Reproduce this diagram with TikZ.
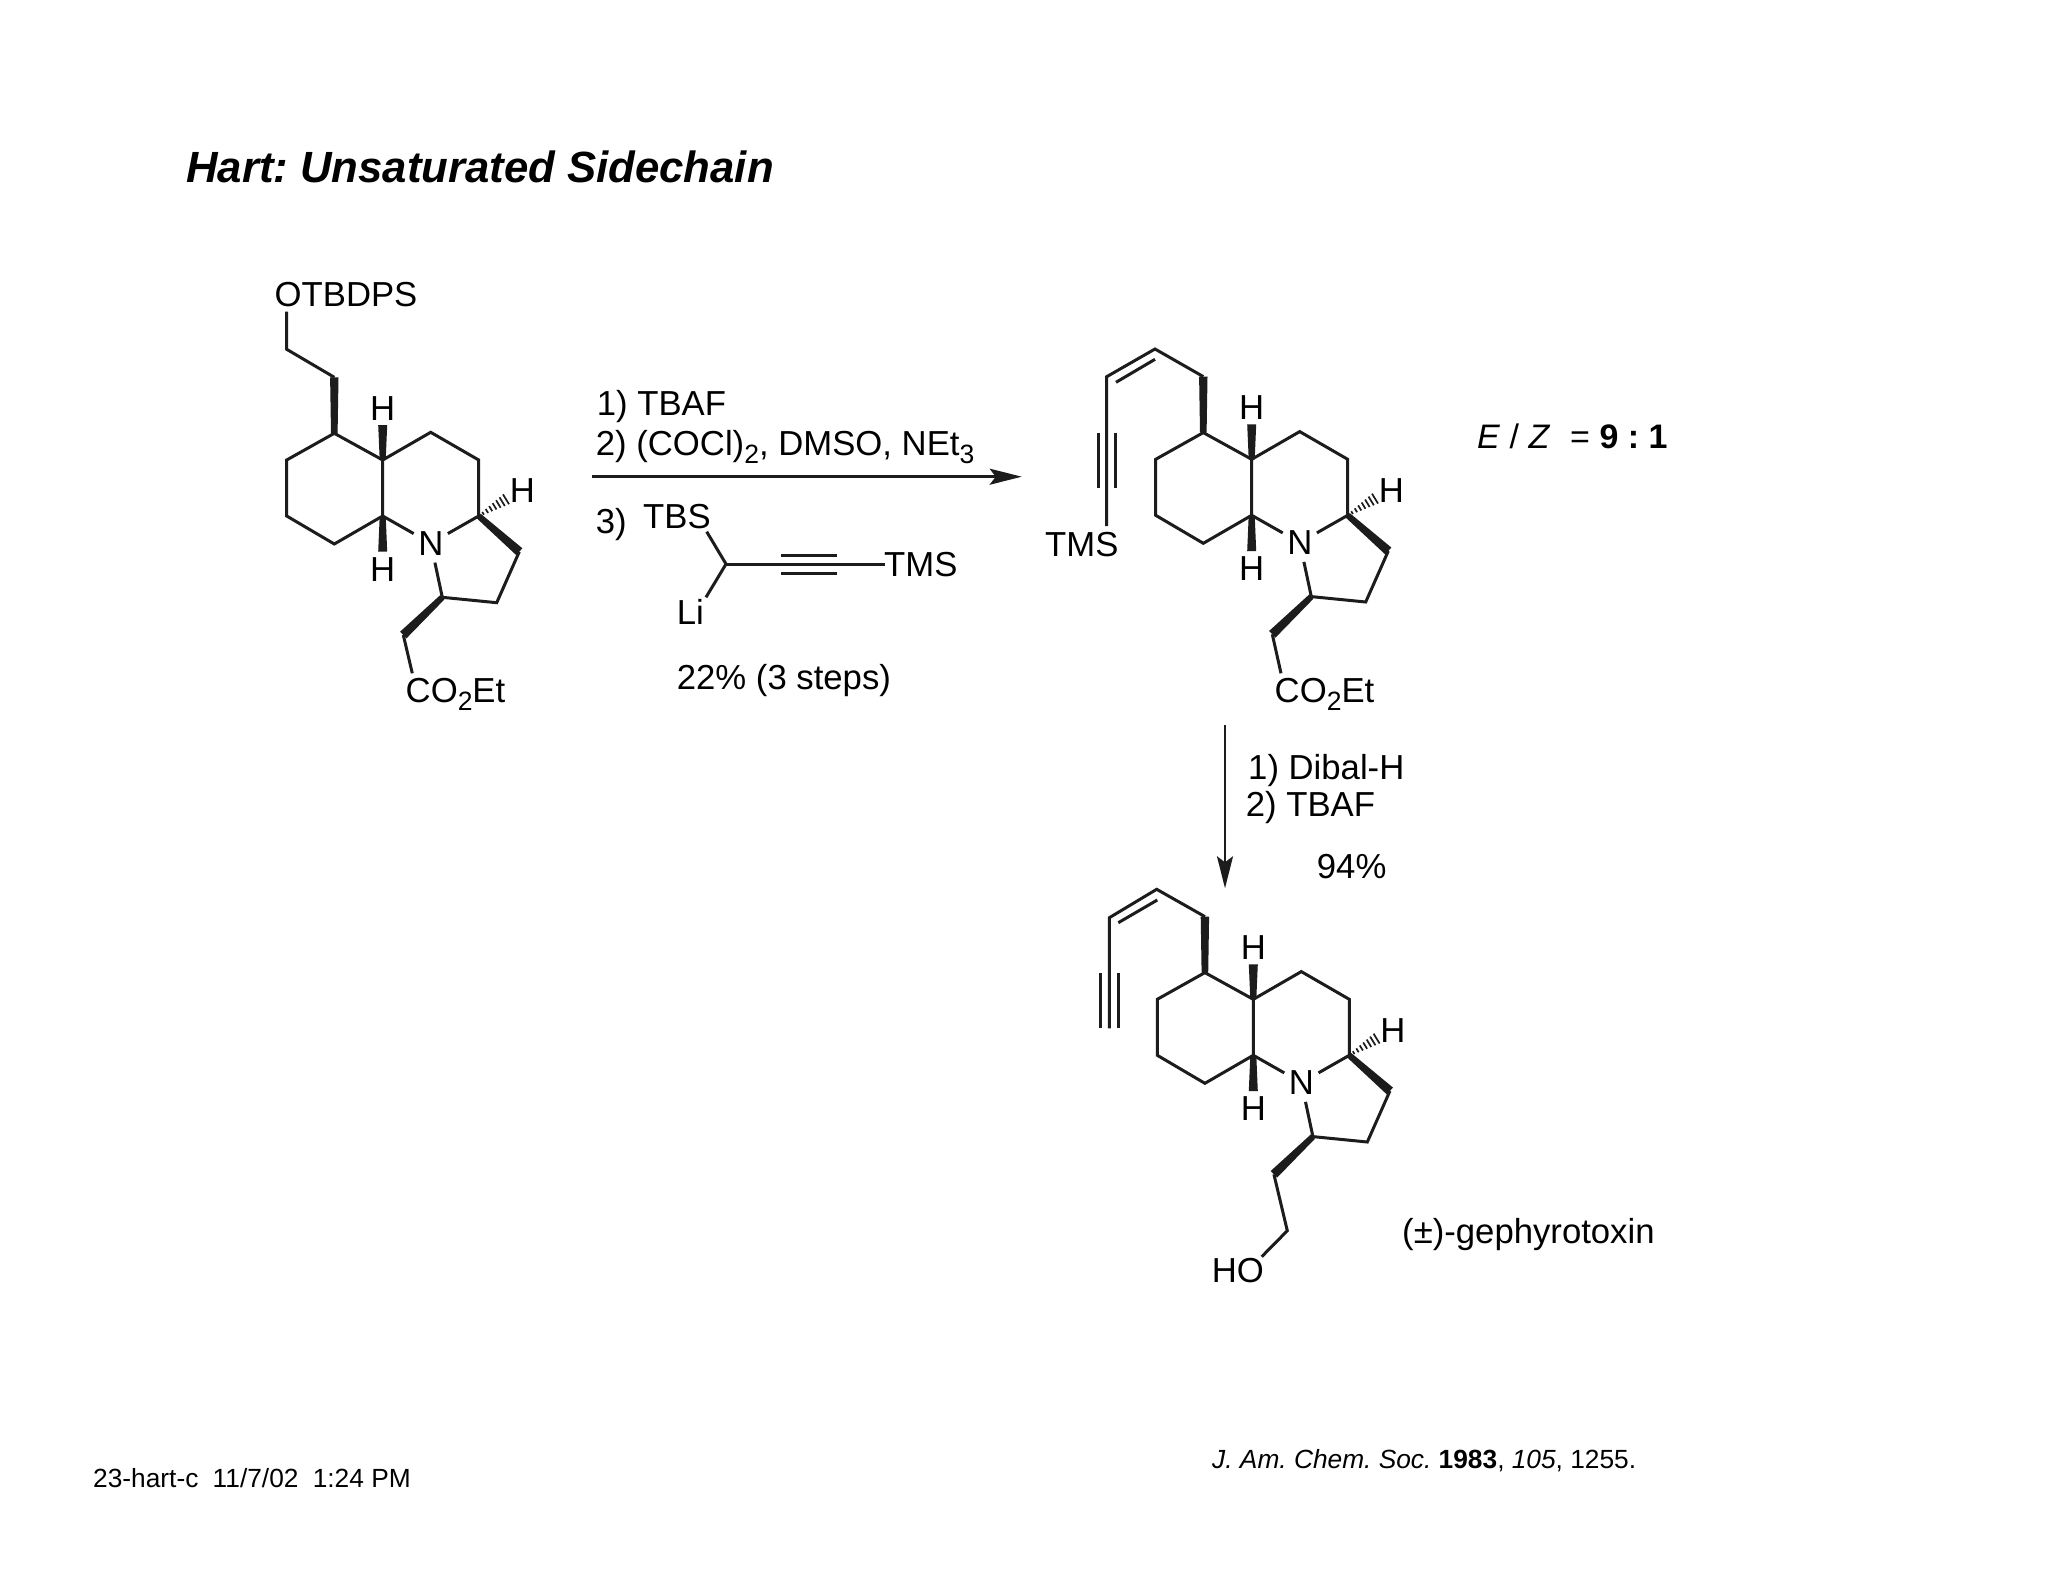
\documentclass[tikz,border=0pt]{standalone}
\usepackage{fontspec}
\setmainfont{Liberation Sans}
\usetikzlibrary{calc,arrows.meta}
\definecolor{ink}{HTML}{1C1C1C}
\frenchspacing
\tikzset{
  x=1pt,y=-1pt,
  bond/.style={draw=ink,line width=3pt},
  lab/.style={inner sep=0pt,anchor=base west,text=black,font=\fontsize{34.7}{39}\selectfont},
  atomH/.style={inner sep=0pt,anchor=center,text=black,font=\fontsize{34.7}{39}\selectfont},
  atomN/.style={circle,inner sep=0pt,minimum size=39pt,anchor=center,text=black,font=\fontsize{34.7}{39}\selectfont},
  small/.style={inner sep=0pt,anchor=base west,text=black,font=\fontsize{26.3}{30}\selectfont},
  rxnarrow/.style={draw=ink,line width=2.6pt,-{Stealth[length=32pt,width=16pt,inset=6pt]}},
}
\newcommand\subs[1]{\raisebox{-8pt}{\fontsize{26.5}{26.5}\selectfont #1}}
\newcommand\bondwedge[4]{\fill[ink] ($(#1)!#3pt!90:(#2)$) -- ($(#2)!#4pt!-90:(#1)$) -- ($(#2)!#4pt!90:(#1)$) -- ($(#1)!#3pt!-90:(#2)$) -- cycle;}
\newcommand\tricycle{%
  \coordinate (c) at (334.3,377.3);
  \coordinate (d) at (334.3,433.3);
  \coordinate (e) at (382.7,460);
  \coordinate (f) at (382.7,516);
  \coordinate (g) at (334.3,544);
  \coordinate (h) at (286.7,516);
  \coordinate (i) at (286.7,460);
  \coordinate (j) at (430.7,432.3);
  \coordinate (k) at (478.7,460);
  \coordinate (l) at (478.7,516);
  \coordinate (m) at (519.3,551.7);
  \coordinate (n) at (496.7,602.7);
  \coordinate (o) at (442.3,597.3);
  \coordinate (p) at (403.3,635);
  \coordinate (eh) at (382.7,425);
  \coordinate (fh) at (382.7,551.7);
  \coordinate (lh) at (506,499.3);
  \coordinate (lx) at (533.3,482.6);
  \node[atomN] (N) at (430.8,543.3) {N};
  \node[atomH] (H1) at (382.7,408.3) {H};
  \node[atomH] (H2) at (382.7,569.5) {H};
  \node[atomH] (H3) at (522.3,491) {H};
  \draw[bond] (d) -- (e) -- (f) -- (g) -- (h) -- (i) -- cycle;
  \draw[bond] (e) -- (j) -- (k) -- (l);
  \draw[bond] (f) -- (N);
  \draw[bond] (l) -- (N);
  \draw[bond] (m) -- (n) -- (o);
  \draw[bond] (o) -- (N);
  \bondwedge{d}{c}{3.3}{4.2}
  \bondwedge{e}{eh}{3}{4.5}
  \bondwedge{f}{fh}{3}{4.5}
  \bondwedge{l}{m}{3}{4.6}
  \bondwedge{o}{p}{3}{4.6}
  \foreach \t/\w in {0.16/1.6,0.30/2.3,0.44/3.0,0.58/3.7,0.72/4.4,0.86/5.1,1.0/5.8}{
    \coordinate (hc) at ($(l)!\t!(lh)$);
    \draw[ink,line width=1.7pt] ($(hc)!\w pt!90:(lx)$) -- ($(hc)!\w pt!-90:(lx)$);
  }
}
\begin{document}
\begin{tikzpicture}
\useasboundingbox (0,0) rectangle (2048,1582);
\fill[white] (0,0) rectangle (2048,1582);

\node[inner sep=0pt,anchor=base west,text=black,font=\fontsize{43.7}{48}\selectfont\bfseries\itshape] (title) at (186,182.5) {Hart: Unsaturated Sidechain};

% molecule 1
\begin{scope}[name prefix=m1-]
  \tricycle
\end{scope}
\node[lab] (otbdps) at (274.5,306.7) {OTBDPS};
\coordinate (a1) at (286.7,311.7);
\coordinate (b1) at (286.7,349.3);
\draw[bond] (a1) -- (b1) -- (m1-c);
\node[lab] (ester1) at (405.5,702.7) {CO\subs{2}Et};
\coordinate (q1) at (412.3,673.3);
\draw[bond] (m1-p) -- (q1);

% first arrow and reagents
\node[lab] (r1) at (596.7,415) {1) TBAF};
\node[lab] (r2) at (595.7,455) {2) (COCl)\subs{2}, DMSO, NEt\subs{3}};
\coordinate (ar1s) at (592.3,476.7);
\coordinate (ar1e) at (1021.7,476.7);
\draw[rxnarrow] (ar1s) -- (ar1e);
\node[lab] (r3) at (595.7,533.3) {3)};
\node[lab] (tbs) at (643,528.3) {TBS};
\node[lab] (li) at (676.7,624) {Li};
\node[lab] (tmsr) at (884,576.7) {TMS};
\coordinate (rc) at (726,564);
\coordinate (rtbs) at (706.7,531.7);
\coordinate (rli) at (706,597.3);
\coordinate (rtms) at (885,564);
\coordinate (t1a) at (781,555);
\coordinate (t1b) at (836.7,555);
\coordinate (t2a) at (781,573.3);
\coordinate (t2b) at (836.7,573.3);
\draw[bond] (rtbs) -- (rc) -- (rli);
\draw[bond] (rc) -- (rtms);
\draw[bond] (t1a) -- (t1b);
\draw[bond] (t2a) -- (t2b);
\node[lab] (yield1) at (676.7,689.3) {22\% (3 steps)};

% molecule 2
\begin{scope}[shift={(869,-0.7)},name prefix=m2-]
  \tricycle
\end{scope}
\coordinate (s2a) at (1155,349);
\coordinate (s2b) at (1106.7,376.7);
\coordinate (s2c) at (1106.7,526);
\coordinate (s2d) at (1116,382.3);
\coordinate (s2e) at (1155,359.3);
\coordinate (s2f) at (1098,432.7);
\coordinate (s2g) at (1098,487.7);
\coordinate (s2h) at (1115.7,432.7);
\coordinate (s2i) at (1115.7,487.7);
\draw[bond] (m2-c) -- (s2a) -- (s2b) -- (s2c);
\draw[bond] (s2d) -- (s2e);
\draw[bond] (s2f) -- (s2g);
\draw[bond] (s2h) -- (s2i);
\node[lab] (tms2) at (1045,556) {TMS};
\node[lab] (ester2) at (1274.5,702.7) {CO\subs{2}Et};
\coordinate (q2) at (1281,673.3);
\draw[bond] (m2-p) -- (q2);

\node[inner sep=0pt,anchor=base west,text=black,font=\fontsize{34}{38}\selectfont] (ratio) at (1477,448) {\textit{E} / \textit{Z}\hspace{10.5pt} = \textbf{9 : 1}};

% second arrow
\coordinate (ar2s) at (1225,725);
\coordinate (ar2e) at (1225,888.3);
\draw[rxnarrow] (ar2s) -- (ar2e);
\node[lab] (r4) at (1248,779.3) {1) Dibal-H};
\node[lab] (r5) at (1245.7,816.7) {2) TBAF};
\node[lab] (yield2) at (1316.7,878.3) {94\%};

% molecule 3
\begin{scope}[shift={(870.6,539.3)},name prefix=m3-]
  \tricycle
\end{scope}
\coordinate (s3a) at (1156.7,889.3);
\coordinate (s3b) at (1109.3,917.7);
\coordinate (s3c) at (1109.3,1028.3);
\coordinate (s3d) at (1118.3,922.7);
\coordinate (s3e) at (1157.3,900);
\coordinate (s3f) at (1100,973.3);
\coordinate (s3g) at (1100,1028.3);
\coordinate (s3h) at (1118,973.3);
\coordinate (s3i) at (1118,1028.3);
\draw[bond] (m3-c) -- (s3a) -- (s3b) -- (s3c);
\draw[bond] (s3d) -- (s3e);
\draw[bond] (s3f) -- (s3g);
\draw[bond] (s3h) -- (s3i);
\coordinate (q3) at (1287.3,1230.7);
\coordinate (r3e) at (1261.7,1256.7);
\draw[bond] (m3-p) -- (q3) -- (r3e);
\node[lab] (ho) at (1211.7,1282) {HO};
\node[lab] (name) at (1402,1243.3) {(±)-gephyrotoxin};

% footers
\node[small] (stamp) at (93,1487.7) {23-hart-c\hspace{7pt} 11/7/02\hspace{7pt} 1:24 PM};
\node[small,font=\fontsize{26.3}{30}\selectfont] (ref) at (1212,1468) {\textit{J. Am. Chem. Soc.} \textbf{1983}, \textit{105}, 1255.};
\end{tikzpicture}
\end{document}
